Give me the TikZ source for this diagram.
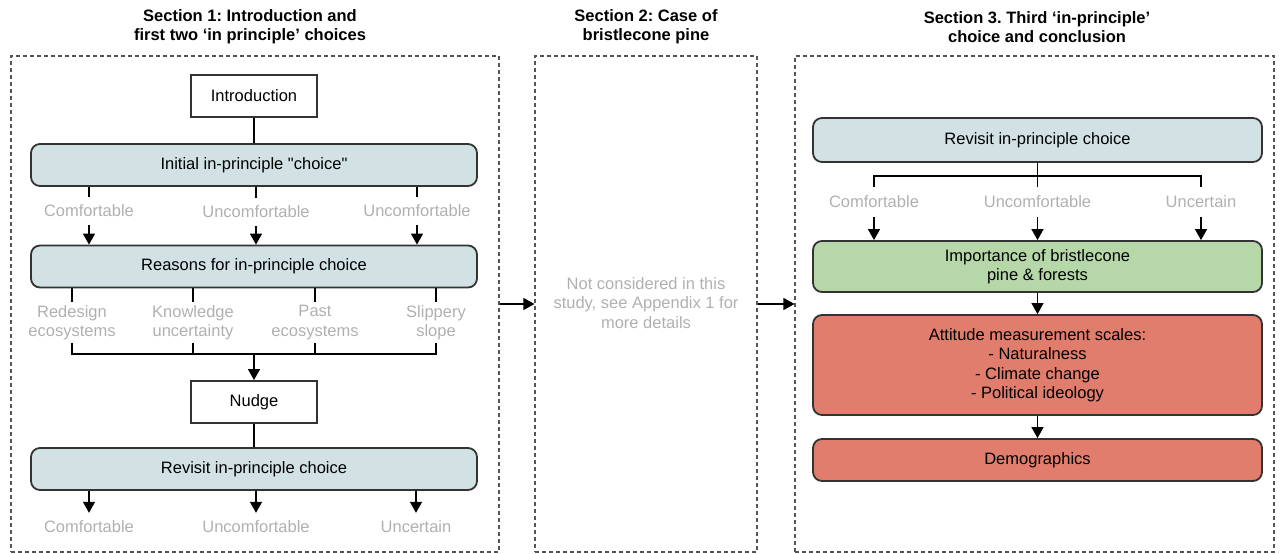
\documentclass[tikz,border=0pt]{standalone}
\usepackage{fontspec}
\setmainfont{Liberation Sans}[Ligatures=TeXOff]
\usetikzlibrary{arrows.meta}
\definecolor{boxblue}{HTML}{D2E2E4}
\definecolor{boxgreen}{HTML}{B6D8A8}
\definecolor{boxred}{HTML}{E07D6C}
\definecolor{labgray}{HTML}{B0B0B0}
\definecolor{linec}{HTML}{333333}
\definecolor{dashgray}{HTML}{555555}
\frenchspacing
\begin{document}
\begin{tikzpicture}[x=1pt,y=-1pt,
  every node/.style={font=\fontsize{16.5}{19.5}\selectfont},
  plainbox/.style={draw=linec, line width=1.8pt, fill=white, minimum width=126pt, minimum height=42pt, inner sep=0pt},
  rbox/.style={draw=linec, line width=1.8pt, rounded corners=9pt, minimum width=446pt, minimum height=42pt, inner sep=0pt, align=center},
  lab/.style={text=labgray, inner sep=0pt, align=center},
  conn/.style={draw=black, line width=1.2pt},
  arr/.style={conn, -{Triangle[length=11pt,width=12pt]}},
  sect/.style={draw=dashgray, line width=1.1pt, dash pattern=on 4pt off 3pt, inner sep=0pt},
  title/.style={font=\fontsize{16.5}{19}\selectfont\bfseries, align=center, inner sep=0pt}
]
\useasboundingbox (0,0) rectangle (1280,554);

% section frames
\node[sect, minimum width=488pt, minimum height=496pt] (s1) at (255,304) {};
\node[sect, minimum width=222pt, minimum height=496pt] (s2) at (646,304) {};
\node[sect, minimum width=479pt, minimum height=496pt] (s3) at (1034.5,304) {};

% titles
\node[title] (t1) at (250,27) {Section 1: Introduction and\\first two ‘in principle’ choices};
\node[title] (t2) at (646,27) {Section 2: Case of\\bristlecone pine};
\node[title] (t3) at (1037,27) {Section 3. Third ‘in-principle’\\choice and conclusion};

% section 1
\node[plainbox] (intro) at (254,96) {Introduction};
\node[rbox, fill=boxblue] (init) at (254,165) {Initial in-principle "choice"};
\node[lab, minimum height=28pt] (l1) at (89,211) {Comfortable};
\node[lab, minimum height=28pt] (l2) at (256,212) {Uncomfortable};
\node[lab, minimum height=28pt] (l3) at (417,211) {Uncomfortable};
\node[rbox, fill=boxblue] (reas) at (254,266.5) {Reasons for in-principle choice};
\node[lab, minimum height=41pt] (r1) at (72,322.5) {Redesign\\ecosystems};
\node[lab, minimum height=41pt] (r2) at (193,322.5) {Knowledge\\uncertainty};
\node[lab, minimum height=41pt] (r3) at (315,322.5) {Past\\ecosystems};
\node[lab, minimum height=41pt] (r4) at (436,322.5) {Slippery\\slope};
\coordinate (j1) at (254,354);
\node[plainbox] (nudge) at (254,402) {Nudge};
\node[rbox, fill=boxblue] (rev1) at (254,469) {Revisit in-principle choice};
\node[lab, minimum height=28pt] (f1) at (89,527) {Comfortable};
\node[lab, minimum height=28pt] (f2) at (256,527) {Uncomfortable};
\node[lab, minimum height=28pt] (f3) at (416,527) {Uncertain};

\draw[conn] (intro) -- (init);
\foreach \l in {l1,l2,l3} {
  \draw[conn] (init.south -| \l) -- (\l.north);
  \draw[arr] (\l.south) -- (reas.north -| \l);
}
\foreach \r in {r1,r2,r3,r4} {
  \draw[conn] (reas.south -| \r) -- (\r.north);
}
\draw[conn] (r1.south) -- (r1.south |- j1) -- (r4.south |- j1) -- (r4.south);
\draw[conn] (r2.south) -- (r2.south |- j1);
\draw[conn] (r3.south) -- (r3.south |- j1);
\draw[arr] (j1) -- (nudge.north);
\draw[conn] (nudge) -- (rev1);
\foreach \f in {f1,f2,f3} {
  \draw[arr] (rev1.south -| \f) -- (\f.north);
}

% section 2
\node[lab] (nc) at (646,303) {Not considered in this\\study, see Appendix 1 for\\more details};
\draw[arr] (s1.east) -- (s2.west);
\draw[arr] (s2.east) -- (s3.west);

% section 3
\node[rbox, fill=boxblue, minimum width=449pt, minimum height=44pt] (rev3) at (1037.5,140) {Revisit in-principle choice};
\coordinate (j3) at (1037.5,176);
\node[lab, minimum height=30pt] (c1) at (874,202) {Comfortable};
\node[lab, minimum height=30pt] (c2) at (1037.5,202) {Uncomfortable};
\node[lab, minimum height=30pt] (c3) at (1201,202) {Uncertain};
\node[rbox, fill=boxgreen, minimum width=449pt, minimum height=51pt] (imp) at (1037.5,266.5) {Importance of bristlecone\\pine \& forests};
\node[rbox, fill=boxred, minimum width=449pt, minimum height=100pt] (att) at (1037.5,365) {Attitude measurement scales:\\- Naturalness\\- Climate change\\- Political ideology};
\node[rbox, fill=boxred, minimum width=449pt, minimum height=42pt] (demo) at (1037.5,460) {Demographics};

\draw[conn] (rev3) -- (j3);
\draw[conn] (c1.north) |- (j3) -| (c3.north);
\draw[conn] (j3) -- (c2.north);
\foreach \c in {c1,c2,c3} {
  \draw[arr] (\c.south) -- (imp.north -| \c);
}
\draw[arr] (imp) -- (att);
\draw[arr] (att) -- (demo);
\end{tikzpicture}
\end{document}
